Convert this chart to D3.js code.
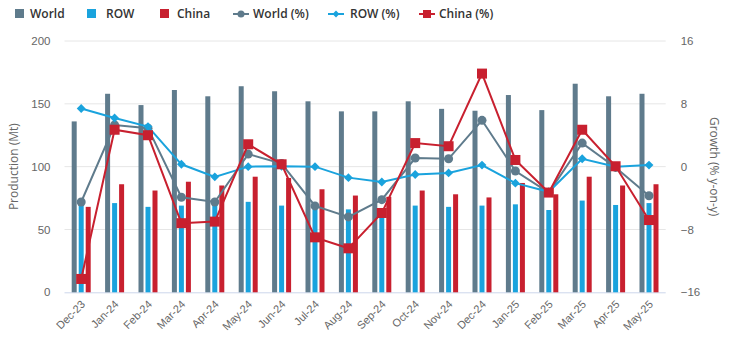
<!DOCTYPE html>
<html>
<head>
<meta charset="utf-8">
<script src="https://cdn.jsdelivr.net/npm/d3@7"></script>
<style>
  html, body { margin: 0; padding: 0; background: #fff; }
  svg { display: block; font-family: "Open Sans", "DejaVu Sans", sans-serif; }
</style>
</head>
<body>
<svg id="chart" width="730" height="339"></svg>
<script>
const categories = ["Dec-23","Jan-24","Feb-24","Mar-24","Apr-24","May-24","Jun-24","Jul-24","Aug-24","Sep-24","Oct-24","Nov-24","Dec-24","Jan-25","Feb-25","Mar-25","Apr-25","May-25"];
const worldProd = [136,158,149,161,156,164,160,152,144,144,152,146,144.5,157,145,166,156,158];
const rowProd   = [70,71,68,69,70,72,69,68,66,64,69,68,69,70,65.5,73,69.5,71];
const chinaProd = [68,86,81,88,85,92,91,82,77,76,81,78,75.5,87,78,92,85,86];
const worldPct  = [-4.5,5.3,4.9,-3.9,-4.5,1.6,0.4,-5.0,-6.4,-4.2,1.1,1.0,5.9,-0.55,-3.3,3.0,-0.1,-3.7];
const rowPct    = [7.4,6.2,5.1,0.3,-1.3,0.0,0.05,0.0,-1.4,-1.95,-1.0,-0.8,0.2,-2.1,-3.2,1.0,0.0,0.2];
const chinaPct  = [-14.3,4.7,4.0,-7.2,-7.0,2.85,0.3,-9.0,-10.4,-5.9,3.0,2.6,11.85,0.85,-3.3,4.7,0.05,-6.8];
const leftTicks = [0,50,100,150,200];
const rightTicks = [-16,-8,0,8,16];

const colors = { world: "#5f7b8c", row: "#1aa3dd", china: "#c8202f" };

const svg = d3.select("#chart");
const plot = { left: 64.5, right: 665.7, top: 41, bottom: 292.3 };

const x0 = d3.scaleBand().domain(categories).range([plot.left, plot.right]).padding(0);
const x1 = d3.scaleBand().domain(["world","row","china"]).range([-9.5, 9.5]).paddingInner(2/7).paddingOuter(0);
const yL = d3.scaleLinear().domain([0, 200]).range([plot.bottom, plot.top]);
const yR = d3.scaleLinear().domain([-16, 16]).range([plot.bottom, plot.top]);
const cx = c => x0(c) + x0.bandwidth() / 2;

// gridlines
svg.append("g").selectAll("line").data(leftTicks.filter(t => t > 0)).join("line")
  .attr("x1", plot.left).attr("x2", plot.right)
  .attr("y1", d => yL(d)).attr("y2", d => yL(d))
  .attr("stroke", "#e6e6e6").attr("stroke-width", 1);

// left axis
const axL = svg.append("g").attr("transform", `translate(${plot.left},0)`)
  .call(d3.axisLeft(yL).tickValues(leftTicks).tickSize(0).tickPadding(14));
axL.select(".domain").remove();
axL.selectAll("text").attr("fill", "#666").attr("font-size", 11.5);

// right axis
const axR = svg.append("g").attr("transform", `translate(${plot.right},0)`)
  .call(d3.axisRight(yR).tickValues(rightTicks).tickSize(0).tickPadding(15)
    .tickFormat(d => d < 0 ? "\u2212" + Math.abs(d) : d));
axR.select(".domain").remove();
axR.selectAll("text").attr("fill", "#666").attr("font-size", 11.5);

// bottom axis line
svg.append("line").attr("x1", plot.left).attr("x2", plot.right)
  .attr("y1", plot.bottom + 0.5).attr("y2", plot.bottom + 0.5)
  .attr("stroke", "#ccd6eb").attr("stroke-width", 1);

// x axis labels
const axB = svg.append("g").attr("transform", `translate(0,${plot.bottom})`)
  .call(d3.axisBottom(x0).tickSize(0).tickPadding(0));
axB.select(".domain").remove();
axB.selectAll("text").attr("fill", "#666").attr("font-size", 11)
  .attr("text-anchor", "end")
  .attr("y", 0).attr("dy", "0.35em")
  .attr("transform", "translate(2,10) rotate(-45)");

// axis titles
svg.append("text").attr("transform", `translate(18,${(plot.top+plot.bottom)/2}) rotate(-90)`)
  .attr("text-anchor", "middle").attr("fill", "#666").attr("font-size", 12)
  .text("Production (Mt)");
svg.append("text").attr("transform", `translate(710,${(plot.top+plot.bottom)/2}) rotate(90)`)
  .attr("text-anchor", "middle").attr("fill", "#666").attr("font-size", 12)
  .text("Growth (% y-on-y)");

// bars
const barSeries = [
  { key: "world", vals: worldProd },
  { key: "row", vals: rowProd },
  { key: "china", vals: chinaProd }
];
barSeries.forEach(s => {
  svg.append("g").selectAll("rect").data(categories).join("rect")
    .attr("x", (c) => cx(c) + x1(s.key))
    .attr("width", x1.bandwidth())
    .attr("y", (c, i) => yL(s.vals[i]))
    .attr("height", (c, i) => plot.bottom - yL(s.vals[i]))
    .attr("fill", colors[s.key]);
});

// lines
const lineGen = vals => d3.line().x((d, i) => cx(categories[i])).y(d => yR(d))(vals);
const lineSeries = [
  { key: "world", vals: worldPct, marker: "circle" },
  { key: "row", vals: rowPct, marker: "diamond" },
  { key: "china", vals: chinaPct, marker: "square" }
];
lineSeries.forEach(s => {
  svg.append("path").attr("d", lineGen(s.vals))
    .attr("fill", "none").attr("stroke", colors[s.key]).attr("stroke-width", 2);
  const g = svg.append("g");
  if (s.marker === "circle") {
    g.selectAll("circle").data(s.vals).join("circle")
      .attr("cx", (d, i) => cx(categories[i])).attr("cy", d => yR(d)).attr("r", 4.5)
      .attr("fill", colors[s.key]);
  } else if (s.marker === "diamond") {
    g.selectAll("path").data(s.vals).join("path")
      .attr("d", d3.symbol(d3.symbolDiamond2, 50))
      .attr("transform", (d, i) => `translate(${cx(categories[i])},${yR(d)})`)
      .attr("fill", colors[s.key]);
  } else {
    g.selectAll("rect").data(s.vals).join("rect")
      .attr("x", (d, i) => cx(categories[i]) - 5).attr("y", d => yR(d) - 5)
      .attr("width", 10).attr("height", 10)
      .attr("fill", colors[s.key]);
  }
});

// legend
const legend = svg.append("g").attr("font-size", 12).attr("font-weight", 600).attr("fill", "#333");
const legItems = [
  { label: "World", type: "box", color: colors.world, x: 15, tx: 30 },
  { label: "ROW", type: "box", color: colors.row, x: 87, tx: 106 },
  { label: "China", type: "box", color: colors.china, x: 160, tx: 177 },
  { label: "World (%)", type: "circle", color: colors.world, x: 233, tx: 253 },
  { label: "ROW (%)", type: "diamond", color: colors.row, x: 328, tx: 350 },
  { label: "China (%)", type: "square", color: colors.china, x: 419, tx: 439 }
];
legItems.forEach(it => {
  const cy = 14;
  if (it.type === "box") {
    legend.append("rect").attr("x", it.x).attr("y", cy - 5).attr("width", 9).attr("height", 9).attr("fill", it.color);
  } else {
    legend.append("line").attr("x1", it.x).attr("x2", it.x + 16).attr("y1", cy).attr("y2", cy)
      .attr("stroke", it.color).attr("stroke-width", 2);
    const mx = it.x + 8;
    if (it.type === "circle") legend.append("circle").attr("cx", mx).attr("cy", cy).attr("r", 3.5).attr("fill", it.color);
    else if (it.type === "diamond") legend.append("path").attr("d", d3.symbol(d3.symbolDiamond2, 30))
      .attr("transform", `translate(${mx},${cy})`).attr("fill", it.color);
    else legend.append("rect").attr("x", mx - 4).attr("y", cy - 4).attr("width", 8).attr("height", 8).attr("fill", it.color);
  }
  legend.append("text").attr("x", it.tx).attr("y", cy).attr("dy", "0.35em").text(it.label);
});
</script>
</body>
</html>
